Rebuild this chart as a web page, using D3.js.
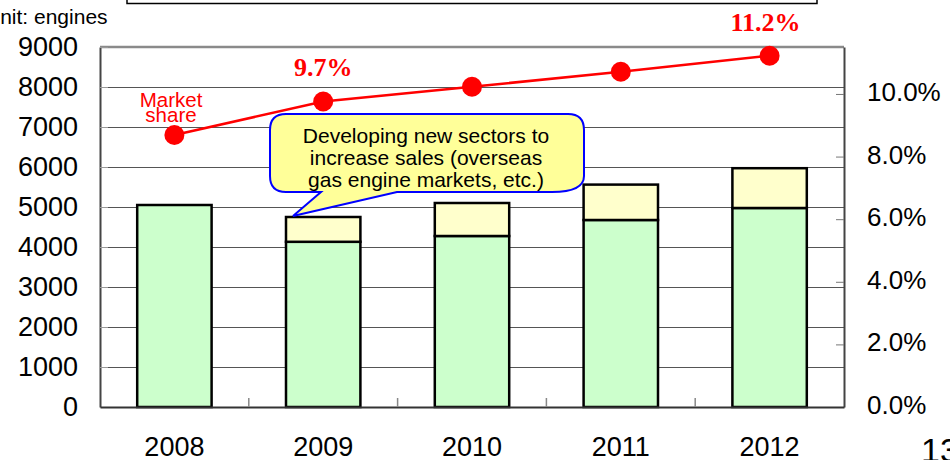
<!DOCTYPE html>
<html>
<head>
<meta charset="utf-8">
<title>Engine sales and market share</title>
<script src="https://d3js.org/d3.v7.min.js"></script>
<style>
  body { margin: 0; background: #fff; }
  svg { display: block; font-family: "Liberation Sans", Arial, sans-serif; }
</style>
</head>
<body>
<script>
// chart data
var years = ['2008', '2009', '2010', '2011', '2012'];
var baseUnits = [5050, 4130, 4275, 4675, 4975];     // green part
var newSectorUnits = [0, 620, 825, 885, 995];       // yellow part
var marketShare = [0.0869, 0.0976, 0.1023, 0.1071, 0.1122];
var leftTicks = [0, 1000, 2000, 3000, 4000, 5000, 6000, 7000, 8000, 9000];
var rightTicks = [0, 0.02, 0.04, 0.06, 0.08, 0.10];
var shareLabels = [{ year: '2009', text: '9.7%', dx: 0 }, { year: '2012', text: '11.2%', dx: -4 }];
var calloutLines = ['Developing new sectors to', 'increase sales (overseas', 'gas engine markets, etc.)'];

var W = 950, H = 460;
var m = { left: 100, right: 844, top: 47, bottom: 407 };

var svg = d3.select('body').append('svg')
    .attr('width', W)
    .attr('height', H);

var x = d3.scaleBand()
    .domain(years)
    .range([m.left, m.right])
    .paddingInner(0.5)
    .paddingOuter(0.25);

var y = d3.scaleLinear().domain([0, 9000]).range([m.bottom, m.top]);
var y2 = d3.scaleLinear().domain([0, 0.115]).range([m.bottom, m.top]);

// box cut off at the top
svg.append('rect')
    .attr('x', 127).attr('y', -20)
    .attr('width', 690).attr('height', 23.5)
    .attr('fill', 'none').attr('stroke', '#000').attr('stroke-width', 1.5);

// unit label (cut off at the left)
svg.append('text')
    .attr('x', -15).attr('y', 24)
    .style('font-size', '21px')
    .text('Unit: engines');

// gridlines
svg.append('g')
  .selectAll('line')
  .data(leftTicks.filter(function(d) { return d > 0 && d < 9000; }))
  .enter().append('line')
    .attr('x1', m.left).attr('x2', m.right)
    .attr('y1', function(d) { return Math.round(y(d)) + 0.5; })
    .attr('y2', function(d) { return Math.round(y(d)) + 0.5; })
    .attr('stroke', '#555').attr('stroke-width', 1);

// top frame line
svg.append('line')
    .attr('x1', m.left).attr('x2', m.right)
    .attr('y1', m.top).attr('y2', m.top)
    .attr('stroke', '#8a8a8a').attr('stroke-width', 2.5);

// stacked bars
var rows = years.map(function(yr, i) {
  return { year: yr, base: baseUnits[i], extra: newSectorUnits[i] };
});
var stack = d3.stack().keys(['base', 'extra']);
var layers = stack(rows);
var fills = { base: '#ccffcc', extra: '#ffffcc' };

svg.append('g')
  .selectAll('g')
  .data(layers)
  .enter().append('g')
    .attr('fill', function(d) { return fills[d.key]; })
  .selectAll('rect')
  .data(function(d) { return d.filter(function(s) { return s[1] > s[0]; }); })
  .enter().append('rect')
    .attr('x', function(d) { return x(d.data.year); })
    .attr('width', x.bandwidth())
    .attr('y', function(d) { return y(d[1]); })
    .attr('height', function(d) { return y(d[0]) - y(d[1]); })
    .attr('stroke', '#000')
    .attr('stroke-width', 2.5);

// left axis
var leftAxis = svg.append('g')
    .attr('transform', 'translate(' + m.left + ',0)')
    .call(d3.axisLeft(y).tickValues(leftTicks).tickFormat(d3.format('d'))
      .tickSizeInner(-8).tickSizeOuter(0).tickPadding(22));
leftAxis.select('.domain').attr('stroke', '#444').attr('stroke-width', 2);
leftAxis.selectAll('.tick line').attr('stroke', '#999');
leftAxis.selectAll('.tick text')
    .style('font-size', '27px')
    .style('font-family', '"Liberation Sans", Arial, sans-serif')
    .attr('fill', '#000')
    .attr('dy', '0.32em');

// right axis
var rightAxis = svg.append('g')
    .attr('transform', 'translate(' + m.right + ',0)')
    .call(d3.axisRight(y2).tickValues(rightTicks).tickFormat(d3.format('.1%'))
      .tickSizeInner(-8).tickSizeOuter(0).tickPadding(23));
rightAxis.select('.domain').attr('stroke', '#444').attr('stroke-width', 2);
rightAxis.selectAll('.tick line').attr('stroke', '#777');
rightAxis.selectAll('.tick text')
    .style('font-size', '26px')
    .style('font-family', '"Liberation Sans", Arial, sans-serif')
    .attr('fill', '#000')
    .attr('dy', '0.25em');

// bottom axis
var bottomAxis = svg.append('g')
    .attr('transform', 'translate(0,' + m.bottom + ')')
    .call(d3.axisBottom(x).tickSize(0).tickPadding(30));
bottomAxis.select('.domain').attr('stroke', '#333').attr('stroke-width', 2);
bottomAxis.selectAll('.tick text')
    .style('font-size', '27px')
    .style('font-family', '"Liberation Sans", Arial, sans-serif')
    .attr('fill', '#000');

// category boundary ticks
svg.append('g')
  .selectAll('line')
  .data(years.slice(1))
  .enter().append('line')
    .attr('x1', function(d) { return x(d) - x.step() * x.paddingInner() / 2; })
    .attr('x2', function(d) { return x(d) - x.step() * x.paddingInner() / 2; })
    .attr('y1', m.bottom).attr('y2', m.bottom - 9)
    .attr('stroke', '#888').attr('stroke-width', 1.5);

// market share line
var cx = function(yr) { return x(yr) + x.bandwidth() / 2; };
var shareData = years.map(function(yr, i) { return { year: yr, v: marketShare[i] }; });

svg.append('path')
    .datum(shareData)
    .attr('fill', 'none')
    .attr('stroke', '#ff0000')
    .attr('stroke-width', 2.5)
    .attr('d', d3.line()
      .x(function(d) { return cx(d.year); })
      .y(function(d) { return y2(d.v); }));

svg.append('g')
  .selectAll('circle')
  .data(shareData)
  .enter().append('circle')
    .attr('cx', function(d) { return cx(d.year); })
    .attr('cy', function(d) { return y2(d.v); })
    .attr('r', 10)
    .attr('fill', '#ff0000');

// value labels
svg.append('g')
  .selectAll('text')
  .data(shareLabels)
  .enter().append('text')
    .attr('x', function(d) { return cx(d.year) + d.dx; })
    .attr('y', function(d) { return y2(marketShare[years.indexOf(d.year)]) - 25; })
    .attr('text-anchor', 'middle')
    .attr('fill', '#ff0000')
    .style('font-family', '"Liberation Serif", "Times New Roman", serif')
    .style('font-weight', 'bold')
    .style('font-size', '26px')
    .text(function(d) { return d.text; });

// "Market share" label
svg.append('text')
    .attr('text-anchor', 'middle')
    .attr('fill', '#ff0000')
    .style('font-size', '20.5px')
  .selectAll('tspan')
  .data(['Market', 'share'])
  .enter().append('tspan')
    .attr('x', 171)
    .attr('y', function(d, i) { return 106.5 + i * 15.5; })
    .text(function(d) { return d; });

// callout bubble
var bx0 = 270, bx1 = 584, by0 = 114, by1 = 192, r = 16;
var tip = [293, 216], baseA = 321, baseB = 397;
var bubble = d3.path();
bubble.moveTo(bx0 + r, by0);
bubble.lineTo(bx1 - r, by0);
bubble.quadraticCurveTo(bx1, by0, bx1, by0 + r);
bubble.lineTo(bx1, by1 - r);
bubble.quadraticCurveTo(bx1, by1, bx1 - 2 * r, by1);
bubble.lineTo(baseB, by1);
bubble.lineTo(tip[0], tip[1]);
bubble.lineTo(baseA, by1);
bubble.lineTo(bx0 + r, by1);
bubble.quadraticCurveTo(bx0, by1, bx0, by1 - r);
bubble.lineTo(bx0, by0 + r);
bubble.quadraticCurveTo(bx0, by0, bx0 + r, by0);
bubble.closePath();

svg.append('path')
    .attr('d', bubble.toString())
    .attr('fill', '#ffff99')
    .attr('stroke', '#0000ff')
    .attr('stroke-width', 2);

svg.append('text')
    .attr('text-anchor', 'middle')
    .attr('fill', '#000')
    .style('font-size', '21px')
  .selectAll('tspan')
  .data(calloutLines)
  .enter().append('tspan')
    .attr('x', 426)
    .attr('y', function(d, i) { return 142.5 + i * 22; })
    .text(function(d) { return d; });

// page number, cut off at the bottom right
svg.append('text')
    .attr('x', 921).attr('y', 462)
    .style('font-size', '34px')
    .text('13');
</script>
</body>
</html>
